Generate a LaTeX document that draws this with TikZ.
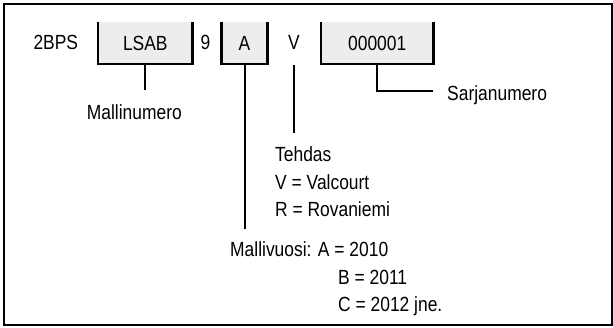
\documentclass[tikz,border=0pt]{standalone}
\usepackage{fontspec}
\setmainfont{Liberation Sans}[FakeStretch=0.85]
\usetikzlibrary{positioning}
\newcommand{\codefont}{\fontsize{20.5}{27.5}\selectfont}

\begin{document}
\begin{tikzpicture}[x=1pt,y=-1pt,
			fld/.style={fill=black!7, minimum height=42pt, inner sep=0pt, font=\codefont},
			txt/.style={anchor=base west, inner sep=0pt, font=\codefont},
			rim/.style={line width=2.2pt},
			ed/.style={-, line width=2pt}
			]
			\useasboundingbox (0,0) rectangle (613,327);
			\draw[line width=2pt] (4,3.5) rectangle (611.5,325.3);
			% code line
			\node[txt] (bps)  at (33.3,49) {2BPS};
			\node[fld, minimum width=94pt] (lsab) at (145.3,43) {LSAB};
			\node[txt] (nine) at (200.5,49) {9};
			\node[fld, minimum width=45.6pt] (yr) at (244.5,43) {A};
			\node[txt] (fac)  at (288,49) {V};
			\node[fld, minimum width=112.3pt] (ser) at (377.2,43) {000001};
			% boxes open at the top
			\foreach \b in {lsab,yr,ser}
				\draw[rim] (\b.north west) |- (\b.south east) -- (\b.north east);
			% labels
			\node[txt] (mnum) at (86.7,119.3) {Mallinumero};
			\node[txt] (snum) at (447,100.7) {Sarjanumero};
			\node[txt] (teh)  at (275,161.3) {Tehdas};
			\node[txt] (val)  at (275,189.3) {V = Valcourt};
			\node[txt] (rov)  at (275,216) {R = Rovaniemi};
			\node[txt] (mv)   at (230,256.7) {Mallivuosi: A = 2010};
			\node[txt] (mvb)  at (338,284.3) {B = 2011};
			\node[txt] (mvc)  at (338,311.7) {C = 2012 jne.};
			% connectors
			\coordinate (mEnd) at (145.3,90);
			\coordinate (yEnd) at (244.5,229);
			\coordinate (fTop) at (294.3,65);
			\coordinate (fEnd) at (294.3,132.7);
			\coordinate (sEnd) at (432.7,90.7);
			\draw[ed] (lsab.south)--(mEnd); \draw[ed] (yr.south)--(yEnd);
			\draw[ed] (fTop)--(fEnd); \draw[ed] (ser.south) |- (sEnd);
	\end{tikzpicture}
\end{document}
